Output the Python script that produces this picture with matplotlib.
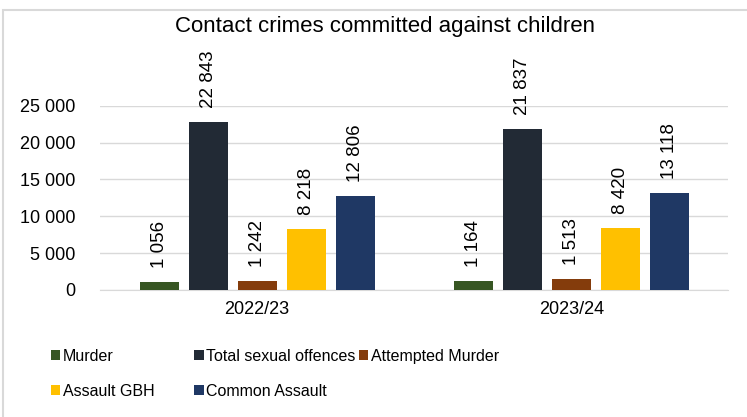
import matplotlib

matplotlib.use('Agg')
import numpy as np
import matplotlib.pyplot as plt
from matplotlib.patches import Rectangle

plt.rcParams['font.family'] = ['Liberation Sans', 'DejaVu Sans']

# Data
years = ['2022/23', '2023/24']
series = ['Murder', 'Total sexual offences', 'Attempted Murder', 'Assault GBH', 'Common Assault']
murder = [1056, 1164]
sexual = [22843, 21837]
attempted = [1242, 1513]
gbh = [8218, 8420]
common = [12806, 13118]
values = [murder, sexual, attempted, gbh, common]
colors = ['#375623', '#222a35', '#843c0c', '#ffc000', '#1f3864']

def fmt(v):
    return f'{v:,}'.replace(',', ' ')

fig = plt.figure(figsize=(7.47, 4.17), dpi=100)
ax = fig.add_axes([0.134, 0.305, 0.841, 0.441])

x = np.arange(len(years))
pitch = 0.156
width = 0.124
bars = []
for i, (name, vals, c) in enumerate(zip(series, values, colors)):
    pos = x + (i - 2) * pitch
    bars.append(ax.bar(pos, vals, width, color=c, label=name, zorder=3))
    for p, v in zip(pos, vals):
        ax.annotate(fmt(v), (p, v), xytext=(0, 10), textcoords='offset points',
                    rotation=90, ha='center', va='bottom', fontsize=13.5, annotation_clip=False)

ax.set_xlim(-0.5, 1.5)
ax.set_ylim(0, 25000)
ax.set_yticks(range(0, 25001, 5000))
ax.set_yticklabels([fmt(v) for v in range(0, 25001, 5000)], fontsize=13)
ax.set_xticks(x)
ax.set_xticklabels(years, fontsize=13)
ax.tick_params(axis='both', length=0)
ax.tick_params(axis='y', pad=18)
ax.tick_params(axis='x', pad=8)
ax.grid(axis='y', color='#d9d9d9', linewidth=1, zorder=0)
for s in ['top', 'right', 'left']:
    ax.spines[s].set_visible(False)
ax.spines['bottom'].set_color('#d9d9d9')

fig.text(0.515, 0.937, 'Contact crimes committed against children', ha='center', va='center', fontsize=16)

leg_kw = dict(frameon=False, fontsize=11.5, handlelength=0.6, handleheight=0.6,
              handletextpad=0.15, labelspacing=1.25, borderaxespad=0, borderpad=0)
h = bars
leg1 = fig.legend([h[0], h[3], h[1], h[4]], [series[0], series[3], series[1], series[4]],
                  loc='upper left', bbox_to_anchor=(0.068, 0.163), ncol=2, columnspacing=2.5, **leg_kw)
leg2 = fig.legend([h[2]], [series[2]], loc='upper left', bbox_to_anchor=(0.48, 0.163), **leg_kw)

fig.patches.append(Rectangle((0.004, -0.01), 1.1, 0.986, transform=fig.transFigure,
                             fill=False, edgecolor='#d9d9d9', linewidth=1.5))

fig.savefig('out.png', dpi=100)
